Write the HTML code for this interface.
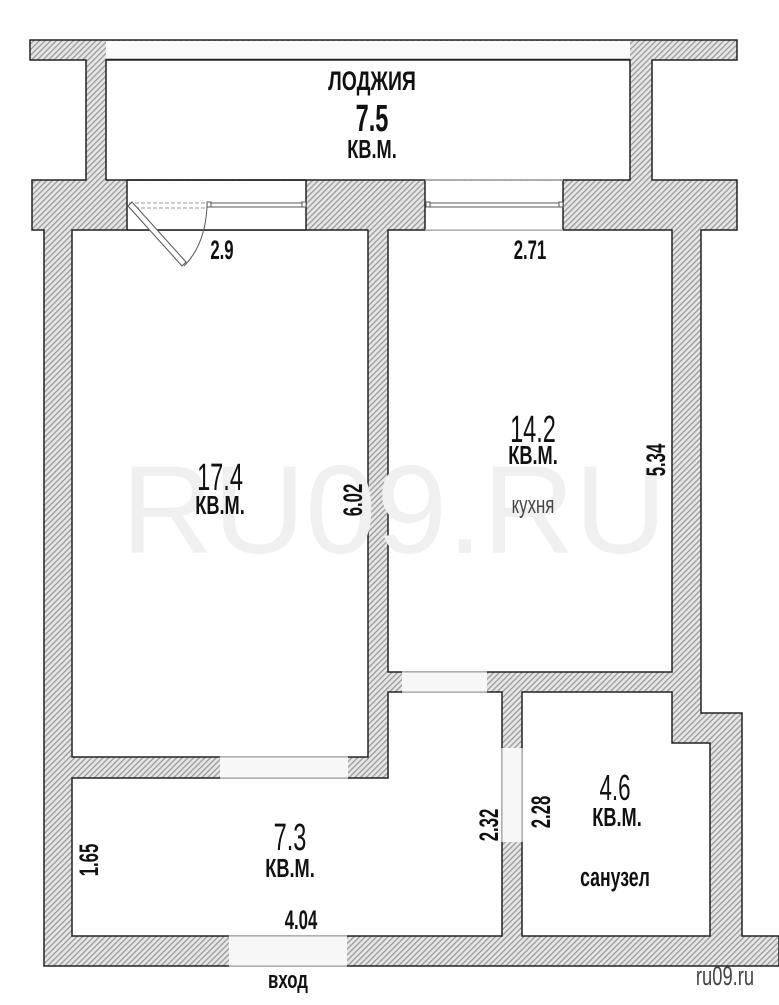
<!DOCTYPE html>
<html><head><meta charset="utf-8"><style>
html,body{margin:0;padding:0;background:#fff;}
svg{display:block;}
text{font-family:"Liberation Sans",sans-serif;font-weight:bold;fill:#111;}
</style></head><body>
<svg width="779" height="1005" viewBox="0 0 779 1005" xmlns="http://www.w3.org/2000/svg">
<defs>
<pattern id="h" width="4" height="4" patternUnits="userSpaceOnUse" patternTransform="rotate(45)">
<rect width="4" height="4" fill="#e6e6e6"/><rect width="1.3" height="4" fill="#9a9a9a"/>
</pattern>
</defs>
<polygon points="30,40 737,40 737,60 652,60 652,180 737,180 737,230 701,230 701,713 742,713 742,936 779,936 779,966 44,966 44,230 32,230 32,180 86,180 86,60 30,60" fill="url(#h)" stroke="#222" stroke-width="1.5"/>
<rect x="106" y="41" width="524" height="18" fill="#fafafa"/>
<line x1="106" y1="59.5" x2="630" y2="59.5" stroke="#222" stroke-width="1.5"/>
<rect x="106" y="60" width="524" height="120" fill="#fff" stroke="#222" stroke-width="1.5"/>
<rect x="72" y="230" width="296" height="527" fill="#fff" stroke="#222" stroke-width="1.5"/>
<rect x="388" y="230" width="284" height="442" fill="#fff" stroke="#222" stroke-width="1.5"/>
<polygon points="72,778 388,778 388,692 502,692 502,936 72,936" fill="#fff" stroke="#222" stroke-width="1.5"/>
<polygon points="522,692 672,692 672,743 710,743 710,936 522,936" fill="#fff" stroke="#222" stroke-width="1.5"/>
<g fill="#f7f7f7" stroke="none">
<rect x="127" y="181" width="179" height="49" fill="#fff"/>
<rect x="425" y="181" width="138" height="49" fill="#fff"/>
<rect x="402" y="672" width="85" height="20"/>
<rect x="220" y="757" width="128" height="21"/>
<rect x="502" y="748" width="20" height="94"/>
<rect x="229" y="936" width="118" height="30"/>
</g>
<g stroke="#222" stroke-width="1.5">
<line x1="127" y1="180" x2="306" y2="180"/><line x1="127" y1="230" x2="306" y2="230"/>
<line x1="127" y1="180" x2="127" y2="230"/><line x1="306" y1="180" x2="306" y2="230"/>
<line x1="563" y1="180" x2="563" y2="230"/><line x1="425" y1="180" x2="425" y2="230"/>
</g>
<g stroke="#bbb" stroke-width="1.5">
<line x1="425" y1="180" x2="563" y2="180"/><line x1="425" y1="230" x2="563" y2="230"/>
<line x1="402" y1="672" x2="487" y2="672"/><line x1="402" y1="692" x2="487" y2="692"/>
<line x1="220" y1="757" x2="348" y2="757"/><line x1="220" y1="778" x2="348" y2="778"/>
<line x1="502" y1="748" x2="502" y2="842"/><line x1="522" y1="748" x2="522" y2="842"/>
<line x1="229" y1="936" x2="347" y2="936"/><line x1="229" y1="966" x2="347" y2="966"/>
</g>
<text x="394" y="553" font-size="125" text-anchor="middle" style="font-weight:normal;fill:#f0f0f0" transform="translate(394 0) scale(1.02 1) translate(-394 0)">RU09.RU</text>
<g stroke="#555" stroke-width="1" fill="#fff">
<line x1="210" y1="203" x2="303" y2="203"/><line x1="210" y1="207" x2="303" y2="207"/>
<line x1="430" y1="203" x2="560" y2="203"/><line x1="430" y1="207" x2="560" y2="207"/>
<rect x="207" y="202" width="4" height="5"/><rect x="302" y="202" width="4" height="5"/>
<rect x="426" y="202" width="4" height="5"/><rect x="559" y="202" width="4" height="5"/>
<line x1="129" y1="203" x2="207" y2="203" stroke-dasharray="4,2" stroke="#999"/>
<line x1="129" y1="208" x2="207" y2="208" stroke-dasharray="4,2" stroke="#999"/>
<polygon points="128,206 132,202 186,262 182,266"/>
<path d="M207,207 Q205,245 184,266" fill="none"/>
</g>
<g text-anchor="middle">
<text x="372" y="90" font-size="27" transform="translate(372 0) scale(0.72 1) translate(-372 0)">ЛОДЖИЯ</text>
<text x="372" y="131" font-size="38" transform="translate(372 0) scale(0.62 1) translate(-372 0)">7.5</text>
<text x="372" y="158" font-size="26" transform="translate(372 0) scale(0.7 1) translate(-372 0)">КВ.М.</text>
<text x="222" y="259" font-size="27" transform="translate(222 0) scale(0.62 1) translate(-222 0)">2.9</text>
<text x="530" y="259" font-size="27" transform="translate(530 0) scale(0.62 1) translate(-530 0)">2.71</text>
<text x="220" y="490" font-size="38" style="font-weight:normal" transform="translate(220 0) scale(0.62 1) translate(-220 0)">17.4</text>
<text x="220" y="514" font-size="26" transform="translate(220 0) scale(0.7 1) translate(-220 0)">КВ.М.</text>
<text x="533" y="442" font-size="38" style="font-weight:normal" transform="translate(533 0) scale(0.62 1) translate(-533 0)">14.2</text>
<text x="533" y="464" font-size="26" transform="translate(533 0) scale(0.7 1) translate(-533 0)">КВ.М.</text>
<text x="533" y="513" font-size="24" style="font-weight:normal;fill:#444" transform="translate(533 0) scale(0.7 1) translate(-533 0)">кухня</text>
<text font-size="27" transform="translate(362 500) rotate(-90) scale(0.62 1)">6.02</text>
<text font-size="27" transform="translate(665 460) rotate(-90) scale(0.62 1)">5.34</text>
<text x="290" y="850" font-size="38" style="font-weight:normal" transform="translate(290 0) scale(0.62 1) translate(-290 0)">7.3</text>
<text x="290" y="877" font-size="26" transform="translate(290 0) scale(0.7 1) translate(-290 0)">КВ.М.</text>
<text font-size="27" transform="translate(98 860) rotate(-90) scale(0.62 1)">1.65</text>
<text x="301" y="929" font-size="27" transform="translate(301 0) scale(0.62 1) translate(-301 0)">4.04</text>
<text font-size="27" transform="translate(498 825) rotate(-90) scale(0.62 1)">2.32</text>
<text font-size="27" transform="translate(550 812) rotate(-90) scale(0.62 1)">2.28</text>
<text x="615" y="800" font-size="36" style="font-weight:normal" transform="translate(615 0) scale(0.62 1) translate(-615 0)">4.6</text>
<text x="617" y="826" font-size="26" transform="translate(617 0) scale(0.7 1) translate(-617 0)">КВ.М.</text>
<text x="615" y="886" font-size="26" transform="translate(615 0) scale(0.68 1) translate(-615 0)">санузел</text>
<text x="288" y="988" font-size="24" transform="translate(288 0) scale(0.7 1) translate(-288 0)">вход</text>
<text x="725" y="985" font-size="27" style="font-weight:normal;fill:#444" transform="translate(725 0) scale(0.68 1) translate(-725 0)">ru09.ru</text>
</g>
</svg>
</body></html>
